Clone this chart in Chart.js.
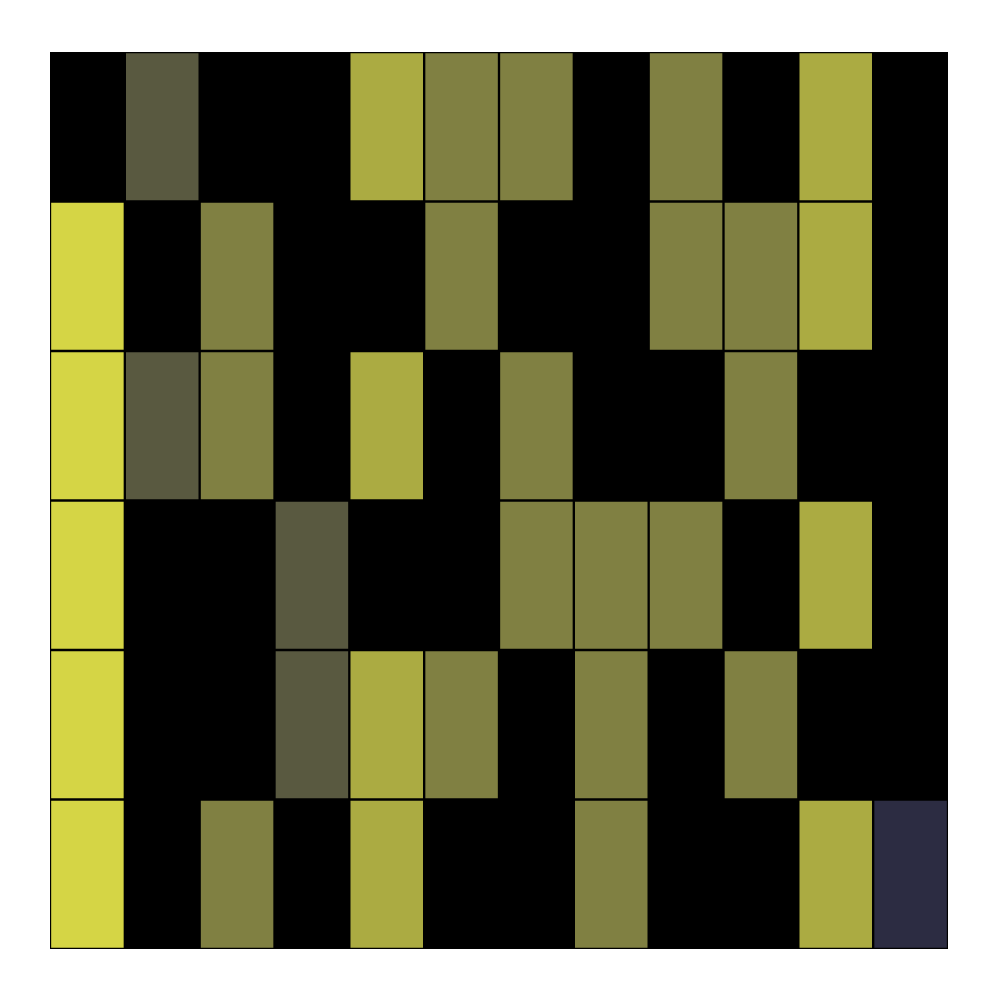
<!DOCTYPE html>
<html>
<head>
<meta charset="utf-8">
<script src="https://cdn.jsdelivr.net/npm/chart.js@4"></script>
<style>
html,body{margin:0;padding:0;background:#fff;}
#wrap{width:1000px;height:1000px;}
</style>
</head>
<body>
<div id="wrap"><canvas id="c" width="1000" height="1000"></canvas></div>
<script>
// columns of the grid
const columns = ["1","2","3","4","5","6","7","8","9","10","11","12"];
// rows, top to bottom
const rowLabels = ["A","B","C","D","E","F"];
// cell levels per row (top to bottom): 0 none, 1 low, 2 mid, 3 high, 4 max, -1 special
const rowA = [0,1,0,0,3,2,2,0,2,0,3,0];
const rowB = [4,0,2,0,0,2,0,0,2,2,3,0];
const rowC = [4,1,2,0,3,0,2,0,0,2,0,0];
const rowD = [4,0,0,1,0,0,2,2,2,0,3,0];
const rowE = [4,0,0,1,3,2,0,2,0,2,0,0];
const rowF = [4,0,2,0,3,0,0,2,0,0,3,-1];
const levels = [rowA,rowB,rowC,rowD,rowE,rowF];

const palette = {"-1":"#2c2c42","0":"#000000","1":"#595940","2":"#808042","3":"#abab42","4":"#d5d545"};

const datasets = levels.slice().reverse().map((row, i) => ({
  label: rowLabels[rowLabels.length-1-i],
  data: row.map(() => 1),
  backgroundColor: row.map(v => palette[String(v)]),
  borderColor: "#000000",
  borderWidth: 1.5,
  borderSkipped: false,
  barPercentage: 1.0,
  categoryPercentage: 1.0
}));

new Chart(document.getElementById("c"), {
  type: "bar",
  data: { labels: columns, datasets },
  options: {
    responsive: false,
    animation: false,
    layout: { padding: { left: 50, top: 52, right: 52, bottom: 51 } },
    plugins: { legend: { display: false }, tooltip: { enabled: false } },
    scales: {
      x: { stacked: true, display: false, offset: true, grid: { display: false } },
      y: { stacked: true, display: false, min: 0, max: 6, grid: { display: false } }
    }
  },
  plugins: [{
    id: "bg",
    beforeDatasetsDraw(chart) {
      const a = chart.chartArea, ctx = chart.ctx;
      ctx.save();
      ctx.fillStyle = "#000";
      ctx.fillRect(a.left, a.top, a.right - a.left, a.bottom - a.top);
      ctx.restore();
    }
  }]
});
</script>
</body>
</html>
